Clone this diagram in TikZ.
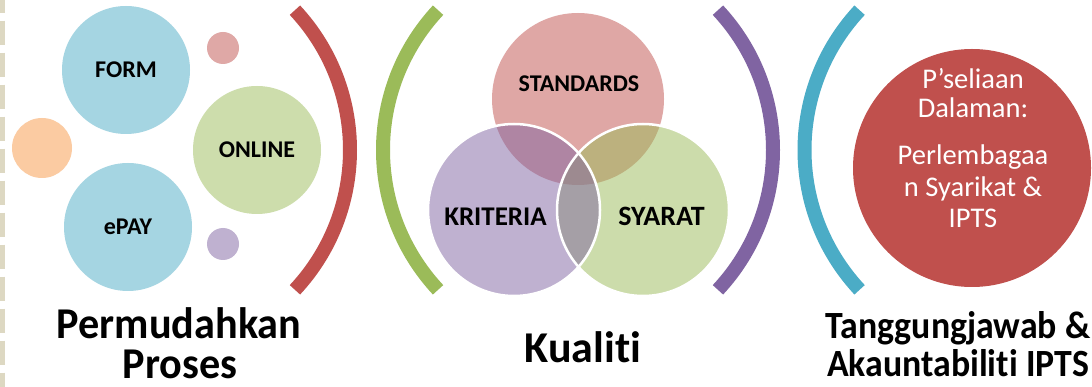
\documentclass[tikz,border=0pt]{standalone}
\usepackage{fontspec}
\usetikzlibrary{calc}
\setmainfont{Carlito}[Ligatures=NoCommon]
\definecolor{cred}{HTML}{C0504D}
\definecolor{cgreen}{HTML}{9BBB59}
\definecolor{cpurple}{HTML}{8064A2}
\definecolor{cteal}{HTML}{4BACC6}
\definecolor{corange}{HTML}{F79646}
\definecolor{cborder}{HTML}{DDD8C2}
\tikzset{
  bubble/.style={circle, inner sep=0pt, minimum size=#1, draw=none},
  inlabel/.style={font=\fontsize{24}{28}\selectfont\bfseries, text=black, inner sep=0pt},
  vennfill/.style={circle, inner sep=0pt, minimum size=172pt, fill=#1, fill opacity=0.5},
  vennline/.style={circle, inner sep=0pt, minimum size=172pt, draw=white, line width=2.5pt},
  paren/.style={line width=14pt, line cap=butt},
  biglabel/.style={font=\fontsize{44}{48}\selectfont\bfseries, text=black, inner sep=0pt, anchor=base},
  midlabel/.style={font=\fontsize{38.5}{42}\selectfont\bfseries, text=black, inner sep=0pt, anchor=base},
  circtext/.style={font=\fontsize{28.5}{32}\selectfont, text=white, inner sep=0pt, anchor=base},
}
\begin{document}
\begin{tikzpicture}[x=1pt,y=-1pt]
\useasboundingbox (0,0) rectangle (1092,387);
\fill[white] (0,0) rectangle (1092,387);
% left dashed border
\coordinate (bt) at (2.5,0);
\coordinate (bb) at (2.5,387);
\draw[cborder, line width=5pt, dash pattern=on 24pt off 8pt, dash phase=11.3pt] (bt) -- (bb);

% ---- left group ----
\node[bubble=60pt, fill=corange!50] (orange) at (42,148) {};
\node[bubble=32pt, fill=cred!50] (pinkdot) at (223,48) {};
\node[bubble=32pt, fill=cpurple!50] (purpledot) at (223,244) {};
\node[bubble=128pt, fill=cteal!50, inlabel] (form) at (126,70) {FORM};
\node[bubble=128pt, fill=cgreen!50, inlabel] (online) at (257,150) {ONLINE};
\node[bubble=128pt, fill=cteal!50, inlabel] (epay) at (128,227) {ePAY};

% ---- parentheses ----
\coordinate (c1) at (145,150);
\coordinate (c2) at (588,150);
\coordinate (c3) at (568,150);
\coordinate (c4) at (1009.5,150);
\draw[paren, cred] ($(c1)+(-43:205)$) arc[start angle=-43, end angle=43, radius=205];
\draw[paren, cgreen] ($(c2)+(137:205)$) arc[start angle=137, end angle=223, radius=205];
\draw[paren, cpurple] ($(c3)+(-43:205)$) arc[start angle=-43, end angle=43, radius=205];
\draw[paren, cteal] ($(c4)+(137:205)$) arc[start angle=137, end angle=223, radius=205];

% ---- venn ----
\node[vennfill=cred] (std) at (578,99) {};
\node[vennfill=cgreen] (syr) at (643,210) {};
\node[vennfill=cpurple] (krt) at (514,210) {};
\node[vennline] (syrl) at (643,210) {};
\node[vennline] (krtl) at (514,210) {};
\node[inlabel, anchor=base] (stdt) at (579,91.7) {STANDARDS};
\node[inlabel, anchor=base, font=\fontsize{27}{30}\selectfont\bfseries] (krtt) at (495.5,226) {KRITERIA};
\node[inlabel, anchor=base, font=\fontsize{28}{30}\selectfont\bfseries] (syrt) at (661.5,226) {SYARAT};

% ---- right group ----
\node[bubble=238pt, fill=cred] (pc) at (972,168) {};
\node[circtext] (pc1) at (973,89) {P’seliaan};
\node[circtext] (pc2) at (973,118) {Dalaman:};
\node[circtext] (pc3) at (973,165) {Perlembagaa};
\node[circtext] (pc4) at (973,197) {n Syarikat \&};
\node[circtext] (pc5) at (973,228) {IPTS};

% ---- bottom labels ----
\node[biglabel] (l1a) at (179,338) {\scalebox{0.96}[1]{Permudahkan}};
\node[biglabel] (l1b) at (180,378) {\scalebox{0.96}[1]{Proses}};
\node[biglabel] (l2) at (583,362) {Kualiti};
\node[midlabel] (l3a) at (958,338.5) {\scalebox{0.93}[1]{Tanggungjawab \&}};
\node[midlabel] (l3b) at (958,376.5) {\scalebox{0.93}[1]{Akauntabiliti IPTS}};
\end{tikzpicture}
\end{document}
